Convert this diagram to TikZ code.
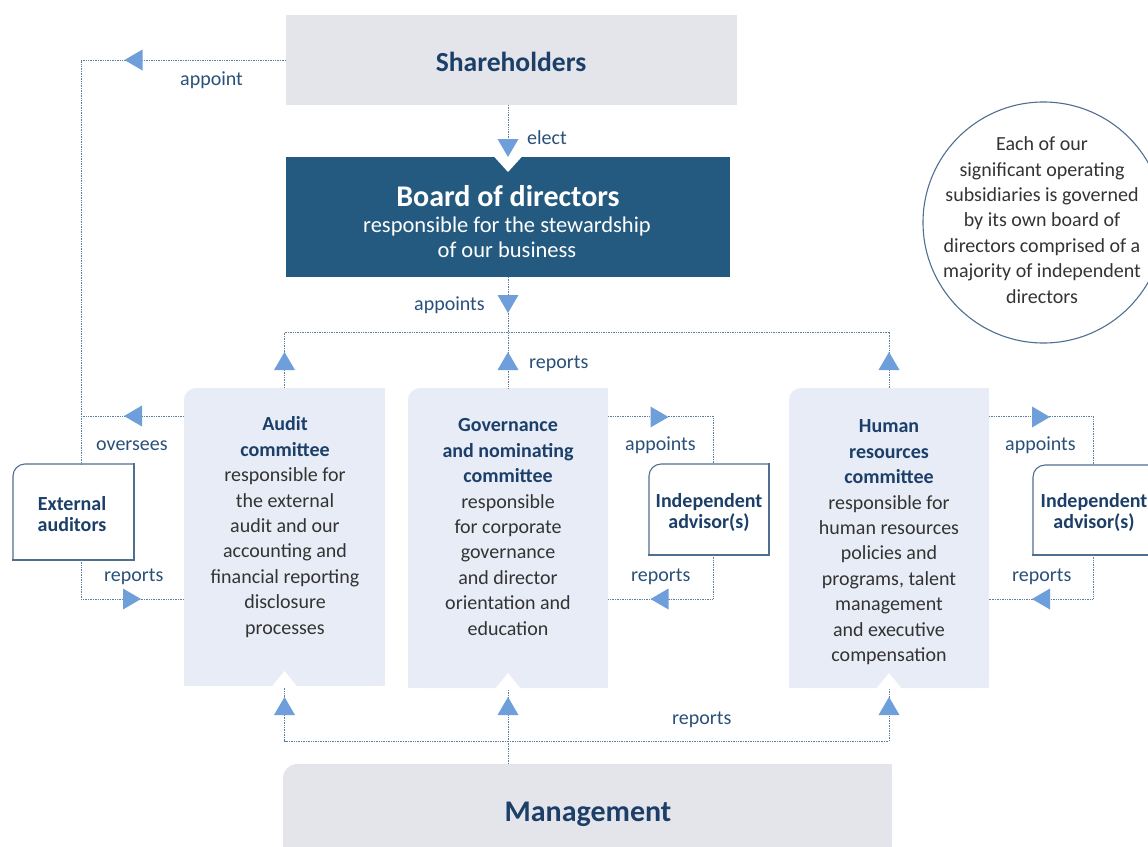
\documentclass[tikz,border=0pt]{standalone}
\usepackage{fontspec}
\setmainfont{Carlito}
\usetikzlibrary{calc}

\definecolor{panelgray}{HTML}{E4E5EA}
\definecolor{boardblue}{HTML}{245A80}
\definecolor{panelblue}{HTML}{E8ECF6}
\definecolor{tipblue}{HTML}{6F9FDB}
\definecolor{wire}{HTML}{5F7E9E}
\definecolor{labelblue}{HTML}{29507A}
\definecolor{headblue}{HTML}{1B3F69}
\definecolor{bodytext}{HTML}{333333}
\definecolor{edge}{HTML}{4F6F90}

\newcommand{\fsz}[2]{\fontsize{#1}{#2}\selectfont}
\newcommand{\hd}[1]{\textcolor{headblue}{\bfseries #1}}
\newcommand{\firstline}{\rule{0pt}{17pt}}

% filled panel whose top-left corner alone is rounded
\newcommand{\tlpanel}[3]{%
  \fill[#2, rounded corners=#3] (#1.south west) rectangle (#1.north east);
  \fill[#2] (#1.north) rectangle (#1.south east);
  \fill[#2] (#1.west) rectangle (#1.south);}
% outline with the top-left corner rounded
\newcommand{\tloutline}[2]{%
  \draw[edge, line width=1.1pt, rounded corners=#2] (#1.south west) -- (#1.north west) -- (#1.north east);
  \draw[edge, line width=1.1pt, line cap=rect] (#1.north east) -- (#1.south east) -- (#1.south west);}

\begin{document}
\begin{tikzpicture}[x=1pt, y=-1pt,
  box/.style={inner sep=0pt, outer sep=0pt, draw=none},
  link/.style={draw=wire, line width=1pt, dash pattern=on 1pt off 0.7pt},
  lbl/.style={inner sep=0pt, text=labelblue, font=\fsz{20}{24}, anchor=base west},
  block/.style={inner sep=0pt, align=center, anchor=north, text=bodytext, font=\fsz{20}{25.4}},
  tag/.style={inner sep=0pt, align=center, anchor=north, text=headblue, font=\fsz{20}{21}\bfseries},
  tipD/.pic={\fill[tipblue] (-10.5,-9) -- (10.5,-9) -- (0,9) -- cycle;},
  tipU/.pic={\fill[tipblue] (-10.5,9) -- (10.5,9) -- (0,-9) -- cycle;},
  tipL/.pic={\fill[tipblue] (9,-10.5) -- (9,10.5) -- (-9,0) -- cycle;},
  tipR/.pic={\fill[tipblue] (-9,-10.5) -- (-9,10.5) -- (9,0) -- cycle;},
  notchD/.pic={\fill[white] (-14.5,-1) -- (14.5,-1) -- (0,15) -- cycle;},
  notchU/.pic={\fill[white] (-13,1) -- (13,1) -- (0,-15) -- cycle;},
]
\useasboundingbox (0,0) rectangle (1148,846);

% ---- main blocks
\node[box, fill=panelgray, minimum width=451, minimum height=90] (share) at (511.5,60) {};
\node[box, fill=boardblue, minimum width=444, minimum height=120] (board) at (508,217) {};
\node[box, minimum width=201, minimum height=298] (audit) at (284.5,537) {};
\node[box, minimum width=200, minimum height=300] (gov) at (508,538) {};
\node[box, minimum width=200, minimum height=300] (hr) at (889,538) {};
\node[box, minimum width=609, minimum height=90] (mgmt) at (587.5,809) {};
\tlpanel{audit}{panelblue}{12pt}
\tlpanel{gov}{panelblue}{12pt}
\tlpanel{hr}{panelblue}{12pt}
\tlpanel{mgmt}{panelgray}{14pt}

% ---- side boxes
\node[box, fill=white, minimum width=121, minimum height=96] (ext) at (73.5,512) {};
\node[box, fill=white, minimum width=120, minimum height=91] (adv1) at (709,509.5) {};
\node[box, fill=white, minimum width=121, minimum height=90] (adv2) at (1093.5,510) {};
\tloutline{ext}{12pt}
\tloutline{adv1}{12pt}
\tloutline{adv2}{12pt}

\node[circle, draw=edge, line width=1.1pt, minimum size=241, inner sep=0pt] (note) at (1043.5,222.5) {};

% ---- connectors
\coordinate (audL) at (81,60);
\coordinate (ovr) at (81,416);
\coordinate (rep) at (81,599);
\coordinate (busT) at (508,332);
\coordinate (busB) at (508,741);
\coordinate (g1) at (713,416);
\coordinate (g2) at (713,599);
\coordinate (h1) at (1093,416);
\coordinate (h2) at (1093,599);

\draw[link] (share.west) -- (audL) -- (audL |- ext.north);
\draw[link] (ovr) -- (ovr -| audit.west);
\draw[link] (ext.south -| audL) -- (rep) -- (rep -| audit.west);

\draw[link] (share.south -| board.north) -- (board.north);
\draw[link] (board.south) -- (gov.north);
\draw[link] (audit.north) -- (audit.north |- busT) -- (hr.north |- busT) -- (hr.north);

\draw[link] (mgmt.north -| gov.south) -- (gov.south);
\draw[link] (audit.south) -- (audit.south |- busB) -- (hr.south |- busB) -- (hr.south);

\draw[link] (gov.east |- g1) -- (g1) -- (g1 |- adv1.north);
\draw[link] (g1 |- adv1.south) -- (g2) -- (g2 -| gov.east);
\draw[link] (hr.east |- h1) -- (h1) -- (h1 |- adv2.north);
\draw[link] (h1 |- adv2.south) -- (h2) -- (h2 -| hr.east);

% ---- notches and arrow tips
\pic at (board.north) {notchD};
\pic at (audit.south) {notchU};
\pic at (gov.south) {notchU};
\pic at (hr.south) {notchU};

\pic at (133.5,60) {tipL};
\pic at (board.north |- 0,148) {tipD};
\pic at (board.south |- 0,304) {tipD};
\pic at (audit.north |- 0,361) {tipU};
\pic at (gov.north |- 0,361) {tipU};
\pic at (hr.north |- 0,361) {tipU};
\pic at (133,416) {tipL};
\pic at (132,599) {tipR};
\pic at (659.5,417) {tipR};
\pic at (659.5,599) {tipL};
\pic at (1041,417) {tipR};
\pic at (1041,599) {tipL};
\pic at (audit.south |- 0,706) {tipU};
\pic at (gov.south |- 0,706) {tipU};
\pic at (hr.south |- 0,706) {tipU};

% ---- texts
\node[inner sep=0pt, anchor=base, text=headblue, font=\fsz{27.6}{30}\bfseries] (shareT) at (511,71.5) {Shareholders};
\node[inner sep=0pt, anchor=base, text=white, font=\fsz{30}{32}\bfseries] (boardT) at (508,206.5) {Board of directors};
\node[inner sep=0pt, anchor=north, align=center, text=white, font=\fsz{22.5}{25}] (boardS) at (507,215)
  {\firstline responsible for the stewardship\\of our business};
\node[inner sep=0pt, anchor=base, text=headblue, font=\fsz{30}{32}\bfseries] (mgmtT) at (588,821) {Management};

\node[block] (auditT) at (285,413.7)
  {\firstline\hd{Audit}\\\hd{committee}\\responsible for\\the external\\audit and our\\accounting and\\financial reporting\\disclosure\\processes};
\node[block] (govT) at (508,414.7)
  {\firstline\hd{Governance}\\\hd{and nominating}\\\hd{committee}\\responsible\\for corporate\\governance\\and director\\orientation and\\education};
\node[block] (hrT) at (889,415.7)
  {\firstline\hd{Human}\\\hd{resources}\\\hd{committee}\\responsible for\\human resources\\policies and\\programs, talent\\management\\and executive\\compensation};

\node[block] (noteT) at (1042,133.5)
  {\firstline Each of our\\significant operating\\subsidiaries is governed\\by its own board of\\directors comprised of a\\majority of independent\\directors};

\node[tag] (extT) at (72,492.8) {\firstline External\\auditors};
\node[tag] (adv1T) at (709,490.5) {\firstline Independent\\advisor(s)};
\node[tag] (adv2T) at (1094,490.5) {\firstline Independent\\advisor(s)};

% ---- connector labels
\node[lbl] (lAppoint) at (180,85) {appoint};
\node[lbl] (lElect) at (527,144) {elect};
\node[lbl] (lAppoints) at (414,310.5) {appoints};
\node[lbl] (lReportsTop) at (529,368) {reports};
\node[lbl] (lOversees) at (96,450.5) {oversees};
\node[lbl] (lReportsExt) at (104,581.5) {reports};
\node[lbl] (lAppointsGov) at (625,450.5) {appoints};
\node[lbl] (lReportsGov) at (631,581.5) {reports};
\node[lbl] (lAppointsHr) at (1005,450.5) {appoints};
\node[lbl] (lReportsHr) at (1012,581.5) {reports};
\node[lbl] (lReportsBot) at (672,724.5) {reports};
\end{tikzpicture}
\end{document}
